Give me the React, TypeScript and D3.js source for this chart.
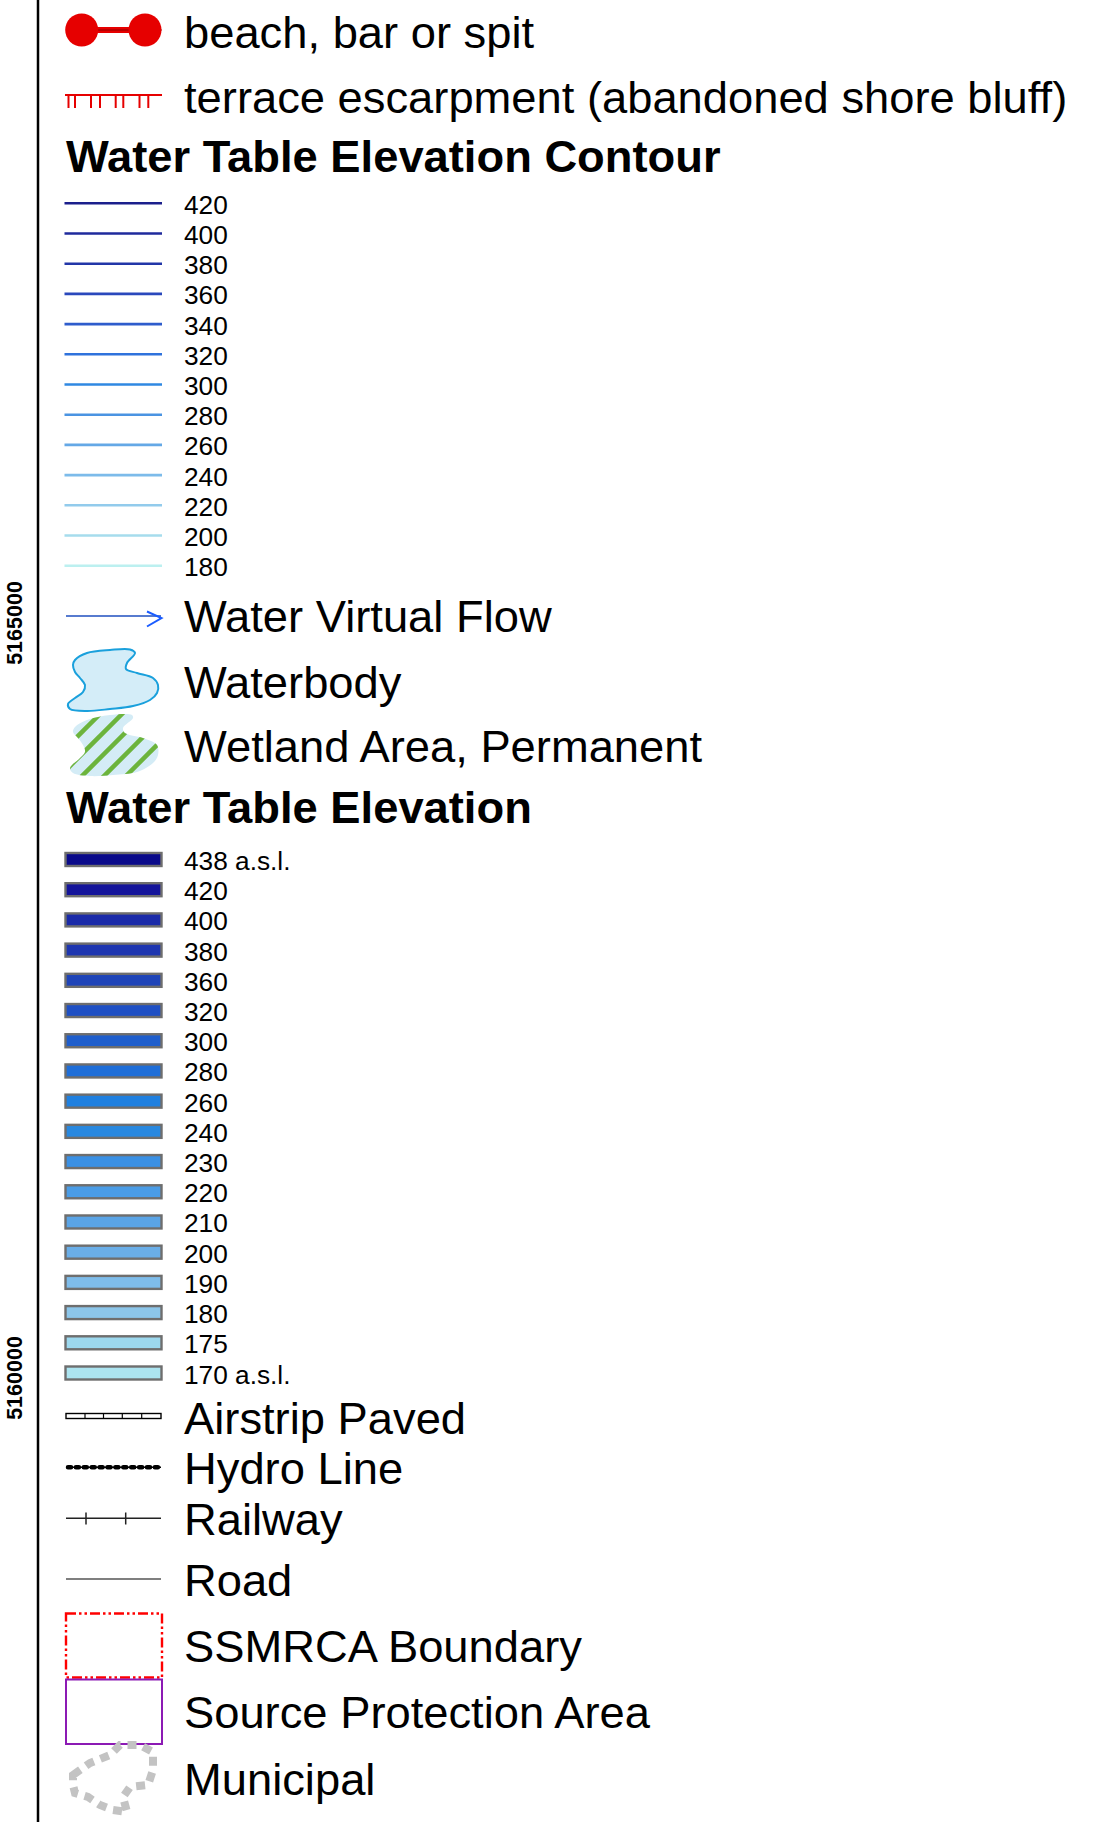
import React, { useEffect, useRef } from 'react';
import * as d3 from 'd3';

// water table contour legend
const contourLevels = ['420', '400', '380', '360', '340', '320', '300', '280', '260', '240', '220', '200', '180'];
const contourColors = ['#1b1f8c', '#1f2a9c', '#2236a8', '#2a48bc', '#2e5ccc', '#2f72dc', '#2f88e2', '#4a94e2', '#64a8e6', '#7cbbea', '#92cbec', '#a6dced', '#bcf0f0'];

// water table elevation classes
const elevationLabels = ['438 a.s.l.', '420', '400', '380', '360', '320', '300', '280', '260', '240', '230', '220', '210', '200', '190', '180', '175', '170 a.s.l.'];
const elevationColors = ['#0a0a8a', '#14149a', '#1a2aa8', '#1e36b0', '#1f44b8', '#1f50c4', '#1f5ecc', '#1f6ed8', '#1f80e0', '#2888e0', '#3a90e4', '#4a9ce6', '#5aa4e6', '#6aaee8', '#7ebcea', '#8cc6ea', '#9cd8ee', '#ace4f0'];

// northing labels on the map frame
const northingTicks = [5165000, 5160000];

const topLabels = ['beach, bar or spit', 'terrace escarpment (abandoned shore bluff)'];
const titles = ['Water Table Elevation Contour', 'Water Table Elevation'];
const areaLabels = ['Water Virtual Flow', 'Waterbody', 'Wetland Area, Permanent'];
const lineLabels = ['Airstrip Paved', 'Hydro Line', 'Railway', 'Road'];
const boundaryLabels = ['SSMRCA Boundary', 'Source Protection Area', 'Municipal'];

const FONT = '"Liberation Sans", Arial, sans-serif';

export default function App() {
  const ref = useRef<SVGSVGElement>(null);

  useEffect(() => {
    const svg = d3.select(ref.current);
    svg.selectAll('*').remove();

    const x0 = 66;
    const x1 = 161;
    const textX = 184;

    const bigText = (label: string, y: number, bold = false) => {
      const x = bold ? 66 : textX;
      svg.append('text')
        .attr('transform', `translate(${x},${y}) scale(1.03,1)`)
        .attr('font-family', FONT)
        .attr('font-size', 44)
        .attr('font-weight', bold ? 'bold' : 'normal')
        .attr('fill', '#000')
        .text(label);
    };

    // map frame + northing labels
    const yNorth = d3.scaleLinear().domain([5160000, 5165000]).range([1378, 623]);
    svg.append('line')
      .attr('x1', 38).attr('x2', 38)
      .attr('y1', 0).attr('y2', 1822)
      .attr('stroke', '#000').attr('stroke-width', 2.5);
    svg.selectAll('text.north')
      .data(northingTicks)
      .enter()
      .append('text')
      .attr('class', 'north')
      .attr('transform', d => `translate(21.5,${yNorth(d)}) rotate(-90)`)
      .attr('text-anchor', 'middle')
      .attr('font-family', FONT)
      .attr('font-size', 21.5)
      .attr('font-weight', 'bold')
      .text(d => d);

    // beach, bar or spit
    const red = '#e60000';
    svg.append('rect').attr('x', 82).attr('y', 27).attr('width', 63).attr('height', 6).attr('fill', red);
    svg.append('line').attr('x1', 82).attr('x2', 162).attr('y1', 30).attr('y2', 30).attr('stroke', '#7a0000').attr('stroke-width', 0.8);
    [81.7, 145].forEach(cx => {
      svg.append('circle').attr('cx', cx).attr('cy', 30).attr('r', 16.5).attr('fill', red);
    });
    bigText(topLabels[0], 48);

    // terrace escarpment
    svg.append('line').attr('x1', 65).attr('x2', 162).attr('y1', 95).attr('y2', 95).attr('stroke', red).attr('stroke-width', 2.2);
    [68.5, 75, 91, 100, 115.7, 123.3, 139.5, 148.3].forEach(tx => {
      svg.append('line').attr('x1', tx).attr('x2', tx).attr('y1', 95).attr('y2', 108).attr('stroke', red).attr('stroke-width', 2);
    });
    bigText(topLabels[1], 113);

    // contour legend
    bigText(titles[0], 171.5, true);
    const yContour = d3.scalePoint<string>().domain(contourLevels).range([203.3, 565.7]);
    const cg = svg.selectAll('g.contour')
      .data(contourLevels)
      .enter()
      .append('g')
      .attr('class', 'contour')
      .attr('transform', d => `translate(0,${yContour(d)})`);
    cg.append('line')
      .attr('x1', 64.5).attr('x2', 162)
      .attr('stroke', (d, i) => contourColors[i])
      .attr('stroke-width', 2.6);
    cg.append('text')
      .attr('transform', `translate(${textX},10.5) scale(1.05,1)`)
      .attr('font-family', FONT)
      .attr('font-size', 25)
      .text(d => d);

    // water virtual flow
    svg.append('line').attr('x1', 66).attr('x2', 161).attr('y1', 616).attr('y2', 616).attr('stroke', '#1f4fbf').attr('stroke-width', 1.6);
    svg.append('path').attr('d', 'M147,611.5L161.5,618L147,626.5').attr('fill', 'none').attr('stroke', '#1a5cff').attr('stroke-width', 2);
    bigText(areaLabels[0], 632);

    // waterbody
    const blob = d3.line().curve(d3.curveCatmullRomClosed.alpha(0.5));
    const waterPts: [number, number][] = [[15, 15], [27, 8], [50, 5], [70, 4.5], [75, 8], [67, 18], [66, 24], [77, 28], [93, 33], [98, 40], [97, 48], [90, 55], [73, 61], [50, 64], [27, 66], [10, 64], [8, 59], [15, 53], [23, 47], [25, 40], [20, 33], [15, 27], [13, 20]];
    svg.append('path')
      .attr('transform', 'translate(60,645)')
      .attr('d', blob(waterPts))
      .attr('fill', '#d4edf8')
      .attr('stroke', '#1aa0dc')
      .attr('stroke-width', 2);
    bigText(areaLabels[1], 698);

    // wetland
    const wetPts: [number, number][] = [[15, 82], [27, 75], [50, 70], [72, 70], [73, 73], [63, 83], [65, 88], [83, 93], [97, 100], [98, 110], [93, 118], [77, 127], [53, 130], [30, 131], [13, 128], [10, 123], [20, 113], [25, 107], [23, 100], [17, 92], [13, 87]];
    const defs = svg.append('defs');
    defs.append('clipPath').attr('id', 'wet-clip')
      .append('path').attr('transform', 'translate(60,645)').attr('d', blob(wetPts));
    svg.append('path')
      .attr('transform', 'translate(60,645)')
      .attr('d', blob(wetPts))
      .attr('fill', '#d4ecf6');
    const stripes = svg.append('g').attr('clip-path', 'url(#wet-clip)');
    d3.range(770, 960, 22).forEach(c => {
      stripes.append('line')
        .attr('x1', c - 790).attr('y1', 790)
        .attr('x2', c - 690).attr('y2', 690)
        .attr('stroke', '#6cb43c')
        .attr('stroke-width', 4.5);
    });
    bigText(areaLabels[2], 761.5);

    // water table elevation legend
    bigText(titles[1], 823, true);
    const yElev = d3.scalePoint<string>().domain(elevationLabels).range([859.5, 1373]);
    const eg = svg.selectAll('g.elev')
      .data(elevationLabels)
      .enter()
      .append('g')
      .attr('class', 'elev')
      .attr('transform', d => `translate(0,${yElev(d)})`);
    eg.append('rect')
      .attr('x', 65.5).attr('y', -6.5)
      .attr('width', 96).attr('height', 13)
      .attr('fill', (d, i) => elevationColors[i])
      .attr('stroke', '#6e6e6e')
      .attr('stroke-width', 2.4);
    eg.append('text')
      .attr('transform', `translate(${textX},10.5) scale(1.05,1)`)
      .attr('font-family', FONT)
      .attr('font-size', 25)
      .text(d => d);

    // airstrip paved
    svg.append('rect').attr('x', x0).attr('y', 1413.5).attr('width', x1 - x0).attr('height', 5).attr('fill', 'none').attr('stroke', '#000').attr('stroke-width', 1.4);
    [85, 103.5, 122.3, 141.7].forEach(tx => {
      svg.append('line').attr('x1', tx).attr('x2', tx).attr('y1', 1413.5).attr('y2', 1418.5).attr('stroke', '#000').attr('stroke-width', 1.2);
    });
    bigText(lineLabels[0], 1433.5);

    // hydro line
    svg.append('line').attr('x1', x0).attr('x2', x1).attr('y1', 1467.3).attr('y2', 1467.3).attr('stroke', '#000').attr('stroke-width', 1.5);
    svg.append('line').attr('x1', x0 + 2).attr('x2', x1).attr('y1', 1467.3).attr('y2', 1467.3)
      .attr('stroke', '#000').attr('stroke-width', 4.5)
      .attr('stroke-linecap', 'round')
      .attr('stroke-dasharray', '3 4.9');
    bigText(lineLabels[1], 1484);

    // railway
    svg.append('line').attr('x1', x0).attr('x2', x1).attr('y1', 1518.3).attr('y2', 1518.3).attr('stroke', '#222').attr('stroke-width', 1.5);
    [86, 125.7].forEach(tx => {
      svg.append('line').attr('x1', tx).attr('x2', tx).attr('y1', 1512.5).attr('y2', 1524.5).attr('stroke', '#222').attr('stroke-width', 1.5);
    });
    bigText(lineLabels[2], 1535);

    // road
    svg.append('line').attr('x1', x0).attr('x2', x1).attr('y1', 1579).attr('y2', 1579).attr('stroke', '#555').attr('stroke-width', 1.5);
    bigText(lineLabels[3], 1596);

    // SSMRCA boundary
    svg.append('rect').attr('x', 66).attr('y', 1613.5).attr('width', 96).attr('height', 64)
      .attr('fill', 'none').attr('stroke', '#ff0000').attr('stroke-width', 2.4)
      .attr('stroke-dasharray', '10 3 2.5 3 2.5 3');
    bigText(boundaryLabels[0], 1661.5);

    // source protection area
    svg.append('rect').attr('x', 66).attr('y', 1679.5).attr('width', 96).attr('height', 64.5)
      .attr('fill', 'none').attr('stroke', '#8c1ab4').attr('stroke-width', 2);
    bigText(boundaryLabels[1], 1728.3);

    // municipal
    const ringPts: [number, number][] = [[13, 40], [30, 28], [50, 20], [60, 10], [80, 10], [93, 17], [93, 35], [88, 50], [70, 52], [63, 62], [67, 77], [53, 75], [40, 70], [28, 62], [15, 58], [13, 50]];
    svg.append('path')
      .attr('transform', 'translate(60,1735)')
      .attr('d', d3.line().curve(d3.curveLinearClosed)(ringPts))
      .attr('fill', 'none')
      .attr('stroke', '#c3c3c3')
      .attr('stroke-width', 8)
      .attr('stroke-dasharray', '9 7');
    bigText(boundaryLabels[2], 1795);
  }, []);

  return (
    <svg
      ref={ref}
      width={1108}
      height={1822}
      style={{ position: 'absolute', left: 0, top: 0, background: '#fff' }}
    />
  );
}
